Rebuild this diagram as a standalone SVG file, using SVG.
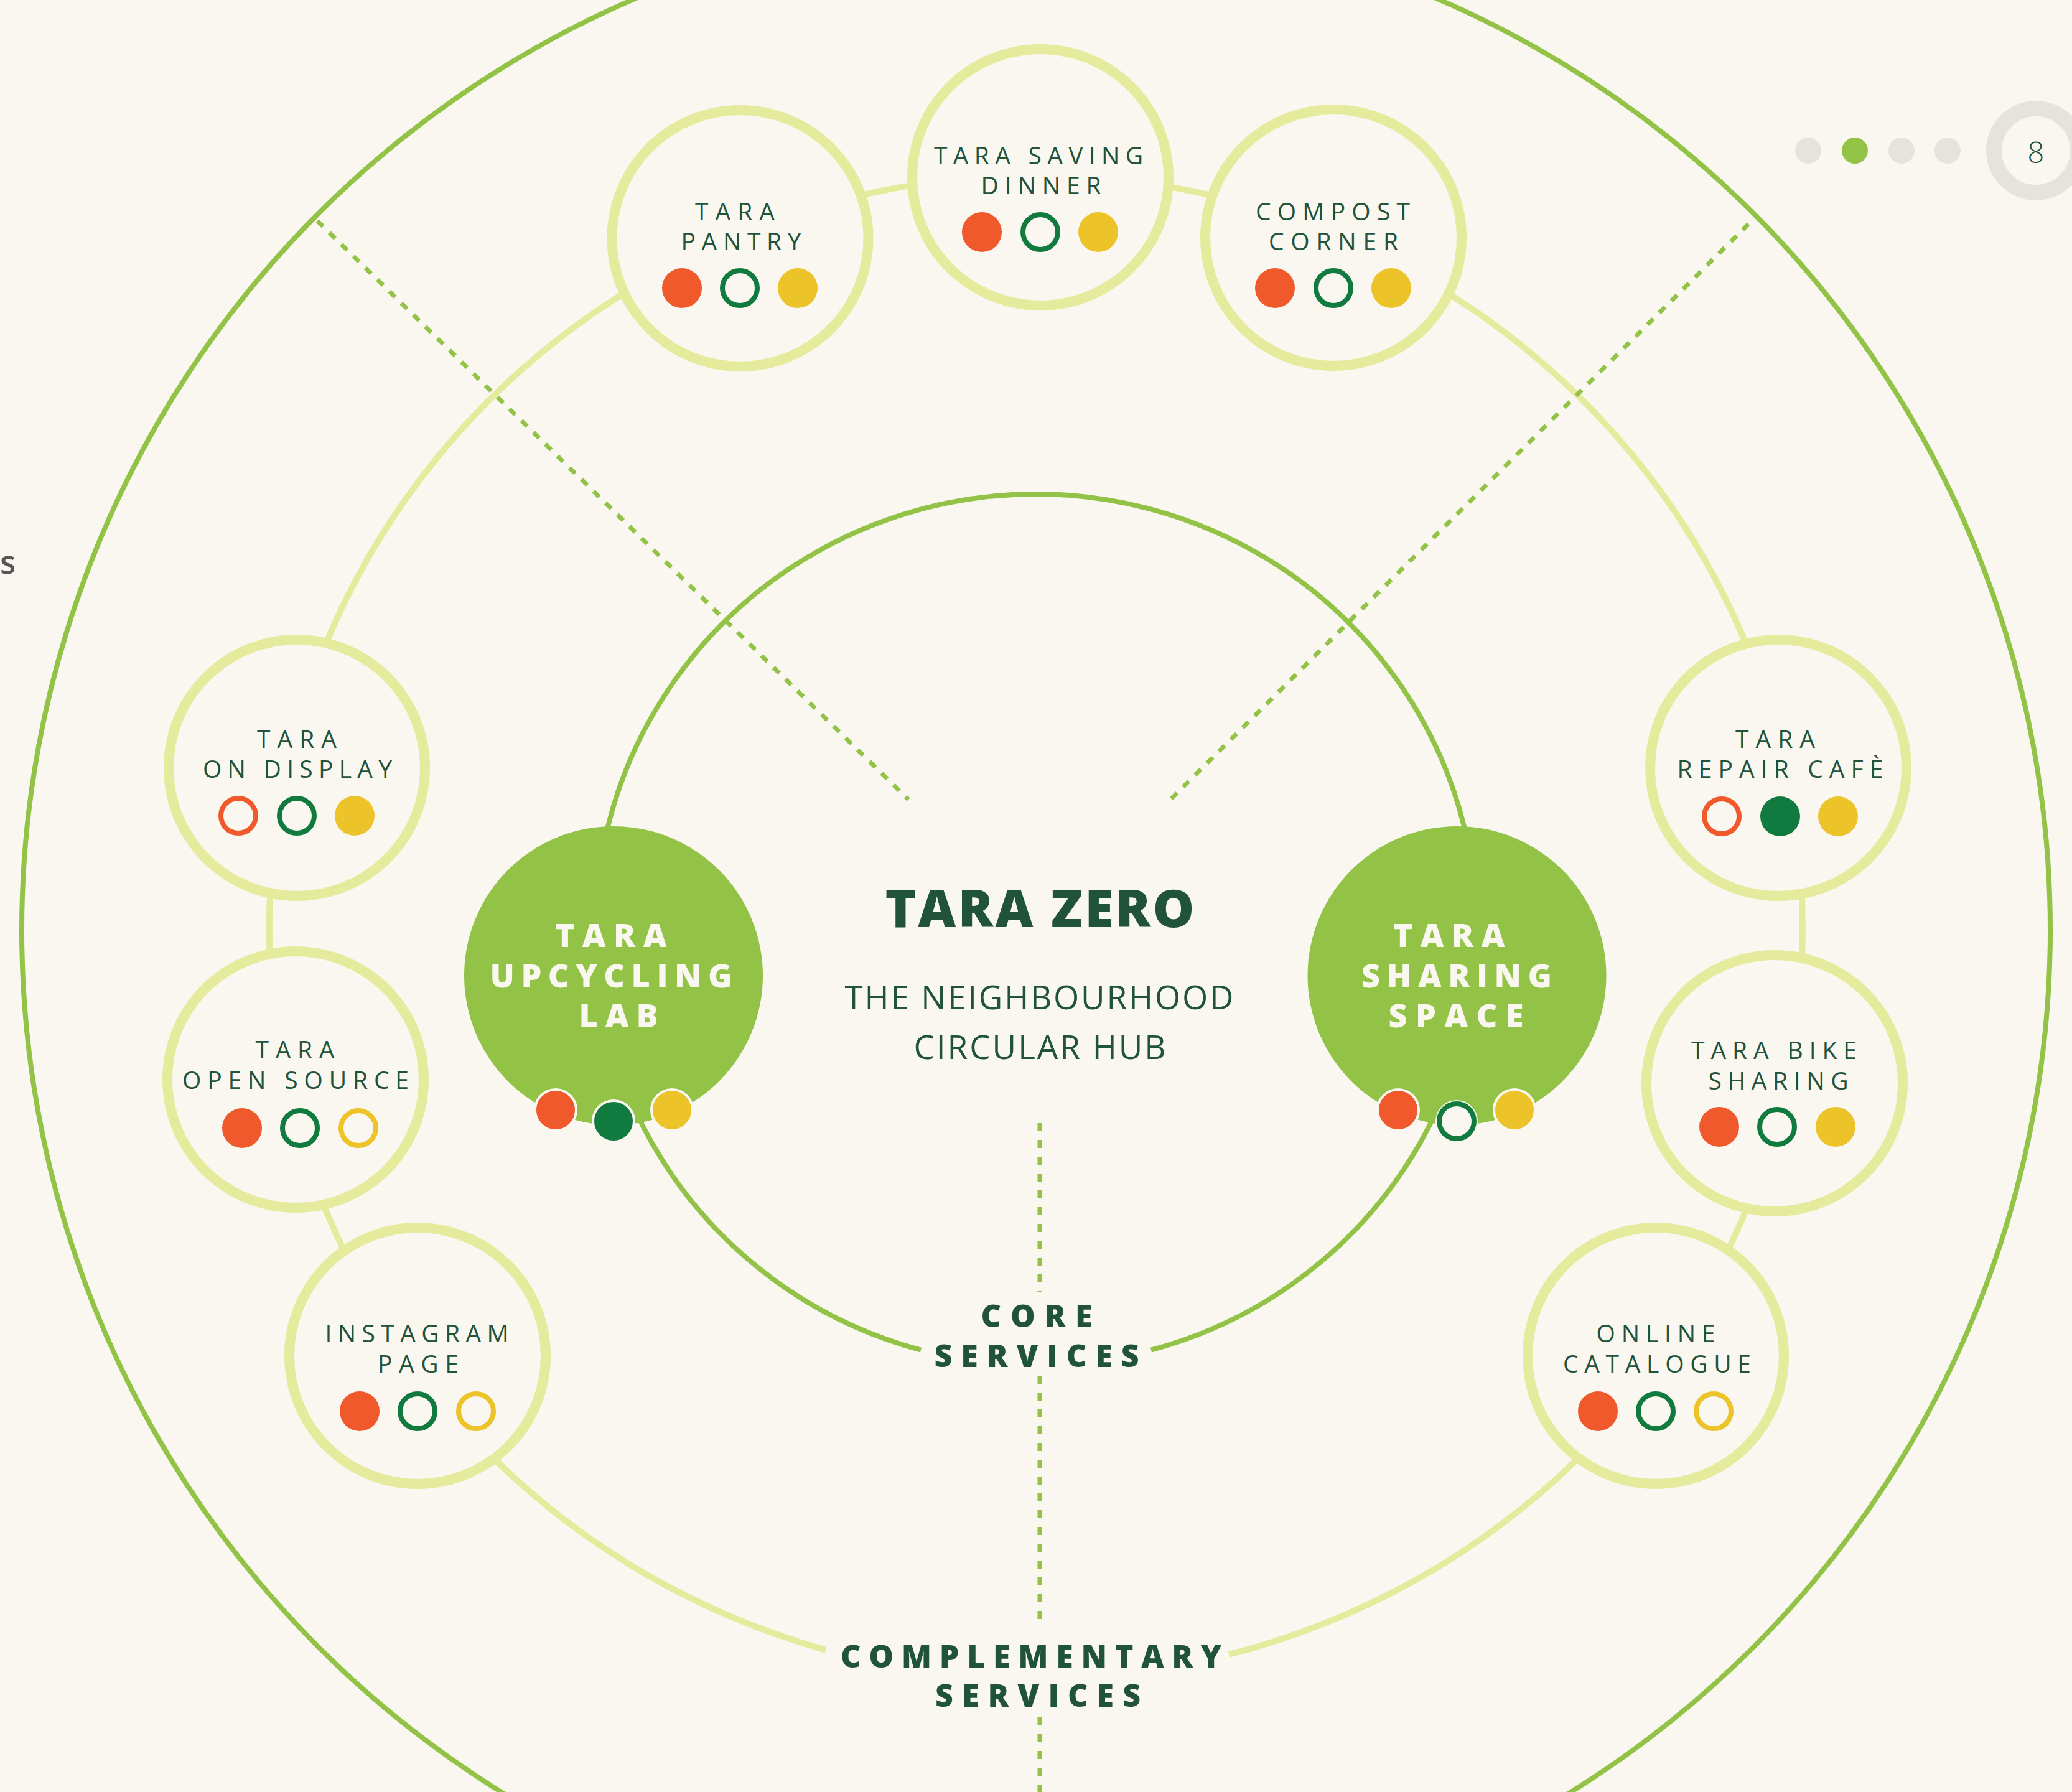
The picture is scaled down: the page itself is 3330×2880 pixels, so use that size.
<svg xmlns="http://www.w3.org/2000/svg" width="3330" height="2880" viewBox="0 0 3330 2880">
<style>
.bg{fill:#f9f7f0}
.ring{fill:none;stroke:#e5eb9c;stroke-width:10}
.outer{fill:none;stroke:#92c347;stroke-width:8}
.core{fill:none;stroke:#92c347;stroke-width:8}
.dash{fill:none;stroke:#92c347;stroke-width:7;stroke-dasharray:13 14}
.node{fill:#f9f7f0;stroke:#e5eb9c;stroke-width:16}
.big{fill:#92c347}
.t{font-family:"Open Sans","Liberation Sans",sans-serif;font-size:39px;font-weight:500;fill:#21533a;text-anchor:middle}
.tw{font-family:"Open Sans","Liberation Sans",sans-serif;font-size:52px;font-weight:800;fill:#f9f7f0;text-anchor:middle}
.tl{font-family:"Open Sans","Liberation Sans",sans-serif;font-size:50px;font-weight:800;fill:#21533a;text-anchor:middle}
.title{font-family:"Open Sans","Liberation Sans",sans-serif;font-size:84px;font-weight:800;fill:#21533a;text-anchor:middle}
.sub{font-family:"Open Sans","Liberation Sans",sans-serif;font-size:53px;font-weight:400;fill:#21533a;text-anchor:middle}
.ro{fill:#f0592b}
.go{fill:#107a3f}
.yo{fill:#ecc42a}
.rr{fill:none;stroke:#f0592b;stroke-width:8}
.gr{fill:none;stroke:#107a3f;stroke-width:8}
.yr{fill:none;stroke:#ecc42a;stroke-width:8}
.wo{stroke:#f9f7f0;stroke-width:4}
.pg{fill:#e6e3dc}
</style>
<rect class="bg" x="0" y="0" width="3330" height="2880"/>
<text x="0" y="922" font-family="'Open Sans','Liberation Sans',sans-serif" font-size="52" font-weight="600" fill="#555555" text-anchor="start">s</text>
<g id="pager">
<circle class="pg" cx="2906" cy="242" r="21"/>
<circle cx="2981" cy="242" r="21" fill="#92c347"/>
<circle class="pg" cx="3056" cy="242" r="21"/>
<circle class="pg" cx="3130" cy="242" r="21"/>
<circle cx="3272" cy="242" r="67.5" fill="none" stroke="#e6e3dc" stroke-width="25"/>
<text x="3272" y="262" font-family="'Open Sans','Liberation Sans',sans-serif" font-size="47" font-weight="300" fill="#21533a" text-anchor="middle">8</text>
</g>
<g id="connectors">
<circle class="outer" cx="1665" cy="1495" r="1630"/>
<path class="ring" d="M 1975 2659 A 1232 1208 0 1 0 1327 2651.6"/>
<path class="core" d="M 1850 2169.7 A 708 700 0 1 0 1480 2169.7"/>
<line class="dash" x1="510" y1="355" x2="1460" y2="1285"/>
<line class="dash" x1="2810" y1="360" x2="1876" y2="1290"/>
<line class="dash" x1="1671" y1="1805" x2="1671" y2="2076"/>
<line class="dash" x1="1671" y1="2211" x2="1671" y2="2615"/>
<line class="dash" x1="1671" y1="2760" x2="1671" y2="2880"/>
</g>
<g id="pantry">
<circle class="node" cx="1189.5" cy="383" r="206"/>
<text class="t" x="1181" y="354" textLength="128" lengthAdjust="spacing">TARA</text>
<text class="t" x="1191" y="402" textLength="193" lengthAdjust="spacing">PANTRY</text>
<circle class="ro" cx="1096" cy="463" r="32"/><circle class="gr" cx="1189" cy="463" r="28"/><circle class="yo" cx="1282" cy="463" r="32"/>
</g>
<g id="saving-dinner">
<circle class="node" cx="1672" cy="285" r="206"/>
<text class="t" x="1669" y="264" textLength="336" lengthAdjust="spacing">TARA SAVING</text>
<text class="t" x="1673" y="312" textLength="193" lengthAdjust="spacing">DINNER</text>
<circle class="ro" cx="1578" cy="373" r="32"/><circle class="gr" cx="1672" cy="373" r="28"/><circle class="yo" cx="1765" cy="373" r="32"/>
</g>
<g id="compost-corner">
<circle class="node" cx="2143" cy="382" r="206"/>
<text class="t" x="2142" y="354" textLength="248" lengthAdjust="spacing">COMPOST</text>
<text class="t" x="2143" y="402" textLength="208" lengthAdjust="spacing">CORNER</text>
<circle class="ro" cx="2049" cy="463" r="32"/><circle class="gr" cx="2143" cy="463" r="28"/><circle class="yo" cx="2236" cy="463" r="32"/>
</g>
<g id="on-display">
<circle class="node" cx="477" cy="1234" r="206"/>
<text class="t" x="477" y="1202" textLength="128" lengthAdjust="spacing">TARA</text>
<text class="t" x="478" y="1250" textLength="304" lengthAdjust="spacing">ON DISPLAY</text>
<circle class="rr" cx="383" cy="1311" r="28"/><circle class="gr" cx="477" cy="1311" r="28"/><circle class="yo" cx="570" cy="1311" r="32"/>
</g>
<g id="open-source">
<circle class="node" cx="475" cy="1735" r="206"/>
<text class="t" x="474" y="1701" textLength="127" lengthAdjust="spacing">TARA</text>
<text class="t" x="475" y="1750" textLength="364" lengthAdjust="spacing">OPEN SOURCE</text>
<circle class="ro" cx="389" cy="1813" r="32"/><circle class="gr" cx="482" cy="1813" r="28"/><circle class="yr" cx="576" cy="1813" r="28"/>
</g>
<g id="instagram-page">
<circle class="node" cx="671" cy="2179" r="206"/>
<text class="t" x="670" y="2157" textLength="295" lengthAdjust="spacing">INSTAGRAM</text>
<text class="t" x="672" y="2206" textLength="130" lengthAdjust="spacing">PAGE</text>
<circle class="ro" cx="578" cy="2268" r="32"/><circle class="gr" cx="671" cy="2268" r="28"/><circle class="yr" cx="765" cy="2268" r="28"/>
</g>
<g id="repair-cafe">
<circle class="node" cx="2858" cy="1234" r="206"/>
<text class="t" x="2853" y="1202" textLength="128" lengthAdjust="spacing">TARA</text>
<text class="t" x="2861" y="1250" textLength="331" lengthAdjust="spacing">REPAIR CAFÈ</text>
<circle class="rr" cx="2767" cy="1312" r="28"/><circle class="go" cx="2861" cy="1312" r="32"/><circle class="yo" cx="2954" cy="1312" r="32"/>
</g>
<g id="bike-sharing">
<circle class="node" cx="2852" cy="1741" r="206"/>
<text class="t" x="2851" y="1702" textLength="266" lengthAdjust="spacing">TARA BIKE</text>
<text class="t" x="2858" y="1751" textLength="225" lengthAdjust="spacing">SHARING</text>
<circle class="ro" cx="2763" cy="1811" r="32"/><circle class="gr" cx="2856" cy="1811" r="28"/><circle class="yo" cx="2950" cy="1811" r="32"/>
</g>
<g id="online-catalogue">
<circle class="node" cx="2661" cy="2179" r="206"/>
<text class="t" x="2661" y="2157" textLength="191" lengthAdjust="spacing">ONLINE</text>
<text class="t" x="2663" y="2206" textLength="302" lengthAdjust="spacing">CATALOGUE</text>
<circle class="ro" cx="2568" cy="2268" r="32"/><circle class="gr" cx="2661" cy="2268" r="28"/><circle class="yr" cx="2754" cy="2268" r="28"/>
</g>
<g id="upcycling-lab">
<circle class="big" cx="986" cy="1568" r="240"/>
<text class="tw" x="982" y="1522" textLength="179" lengthAdjust="spacing">TARA</text>
<text class="tw" x="982" y="1587" textLength="389" lengthAdjust="spacing">UPCYCLING</text>
<text class="tw" x="994" y="1651" textLength="127" lengthAdjust="spacing">LAB</text>
<circle class="ro wo" cx="893" cy="1784" r="33"/>
<circle class="go wo" cx="986" cy="1802" r="33"/>
<circle class="yo wo" cx="1080" cy="1784" r="33"/>
</g>
<g id="sharing-space">
<circle class="big" cx="2341.5" cy="1568" r="240"/>
<text class="tw" x="2329" y="1522" textLength="179" lengthAdjust="spacing">TARA</text>
<text class="tw" x="2341" y="1587" textLength="306" lengthAdjust="spacing">SHARING</text>
<text class="tw" x="2340" y="1651" textLength="217" lengthAdjust="spacing">SPACE</text>
<circle class="ro wo" cx="2247" cy="1784" r="33"/>
<circle cx="2341" cy="1802" r="34" fill="#f9f7f0"/>
<circle class="gr" cx="2341" cy="1802" r="28"/>
<circle class="yo wo" cx="2434" cy="1784" r="33"/>
</g>
<g id="tara-zero">
<text class="title" x="1671" y="1490" textLength="497" lengthAdjust="spacing">TARA ZERO</text>
<text class="sub" x="1670" y="1622" textLength="625" lengthAdjust="spacing">THE NEIGHBOURHOOD</text>
<text class="sub" x="1671" y="1702" textLength="405" lengthAdjust="spacing">CIRCULAR HUB</text>
</g>
<g id="labels">
<text class="tl" x="1666" y="2133" textLength="179" lengthAdjust="spacing">CORE</text>
<text class="tl" x="1666" y="2197" textLength="329" lengthAdjust="spacing">SERVICES</text>
<text class="tl" x="1657" y="2680" textLength="612" lengthAdjust="spacing">COMPLEMENTARY</text>
<text class="tl" x="1668" y="2743" textLength="330" lengthAdjust="spacing">SERVICES</text>
</g>
</svg>
